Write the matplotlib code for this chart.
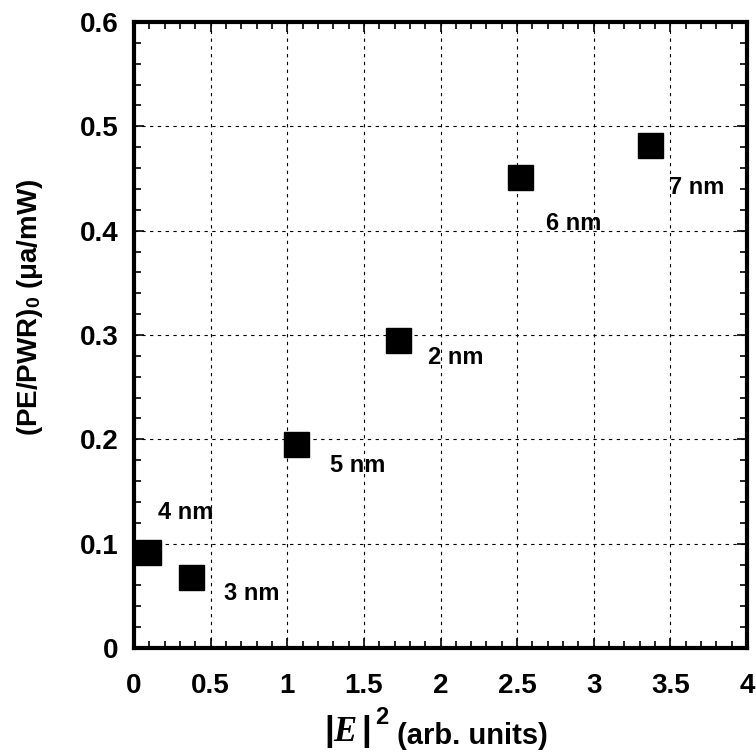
import numpy as np
import matplotlib.pyplot as plt
from matplotlib.ticker import MultipleLocator

plt.rcParams["font.family"] = ["Liberation Sans", "DejaVu Sans"]
plt.rcParams["font.weight"] = "bold"
plt.rcParams["mathtext.fontset"] = "custom"
plt.rcParams["mathtext.rm"] = "Liberation Sans"
plt.rcParams["mathtext.it"] = "Liberation Serif:italic"
plt.rcParams["mathtext.bf"] = "Liberation Sans:bold"

# film thickness, field intensity and photoemission yield
labels = ["4 nm", "3 nm", "5 nm", "2 nm", "6 nm", "7 nm"]
e_sq = [0.09, 0.372, 1.057, 1.72, 2.52, 3.37]
pe_pwr = [0.092, 0.068, 0.196, 0.295, 0.451, 0.482]

# where each label sits
label_x = [0.34, 0.77, 1.46, 2.10, 2.87, 3.67]
label_y = [0.130, 0.052, 0.175, 0.278, 0.407, 0.441]

xticks = [0, 0.5, 1, 1.5, 2, 2.5, 3, 3.5, 4]
xtick_labels = ["0", "0.5", "1", "1.5", "2", "2.5", "3", "3.5", "4"]
yticks = [0, 0.1, 0.2, 0.3, 0.4, 0.5, 0.6]
ytick_labels = ["0", "0.1", "0.2", "0.3", "0.4", "0.5", "0.6"]

W, H = 756, 752
fig = plt.figure(figsize=(W / 100, H / 100), dpi=100)
ax = fig.add_axes([134 / W, 1 - 648 / H, 613 / W, 626 / H])

ax.plot(e_sq, pe_pwr, "s", color="black", markersize=18, clip_on=False, zorder=3)

for lab, x, y in zip(labels, label_x, label_y):
    ax.text(x, y, lab, ha="center", va="center", fontsize=17, fontweight="bold")

ax.set_xlim(0, 4)
ax.set_ylim(0, 0.6)
ax.set_xticks(xticks)
ax.set_xticklabels(xtick_labels)
ax.set_yticks(yticks)
ax.set_yticklabels(ytick_labels)
ax.xaxis.set_minor_locator(MultipleLocator(0.1))
ax.yaxis.set_minor_locator(MultipleLocator(0.02))

ax.grid(True, which="major", color="black", linestyle=(0, (3, 4)), linewidth=0.8)

# thick box, inward ticks all round
for side in ["top", "bottom", "left", "right"]:
    ax.spines[side].set_linewidth(3)

ax.tick_params(axis="both", which="both", direction="in", top=True, right=True, width=1.2)
ax.tick_params(axis="both", which="major", length=7.5, labelsize=20)
ax.tick_params(axis="both", which="minor", length=5)
ax.tick_params(axis="x", which="major", pad=18)
ax.tick_params(axis="y", which="major", pad=11)

ax.set_ylabel(r"(PE/PWR)$_{\mathrm{0}}$ $\mathrm{(\mu a/mW)}$", fontsize=20,
              fontweight="bold", va="center")
ax.yaxis.set_label_coords((30 - 134) / 613, (648 - 307) / 626)

# x label in pieces: big serif |E|, superscript 2, then the units
fig.text(347 / W, 1 - 732 / H, r"$|E\,|$", fontsize=25, fontweight="normal",
         ha="center", va="center")
fig.text(382 / W, 1 - 717 / H, "2", fontsize=17, fontweight="bold", ha="center", va="center")
fig.text(472 / W, 1 - 736 / H, "(arb. units)", fontsize=21, fontweight="bold",
         ha="center", va="center")

fig.savefig("out.png", dpi=100)
